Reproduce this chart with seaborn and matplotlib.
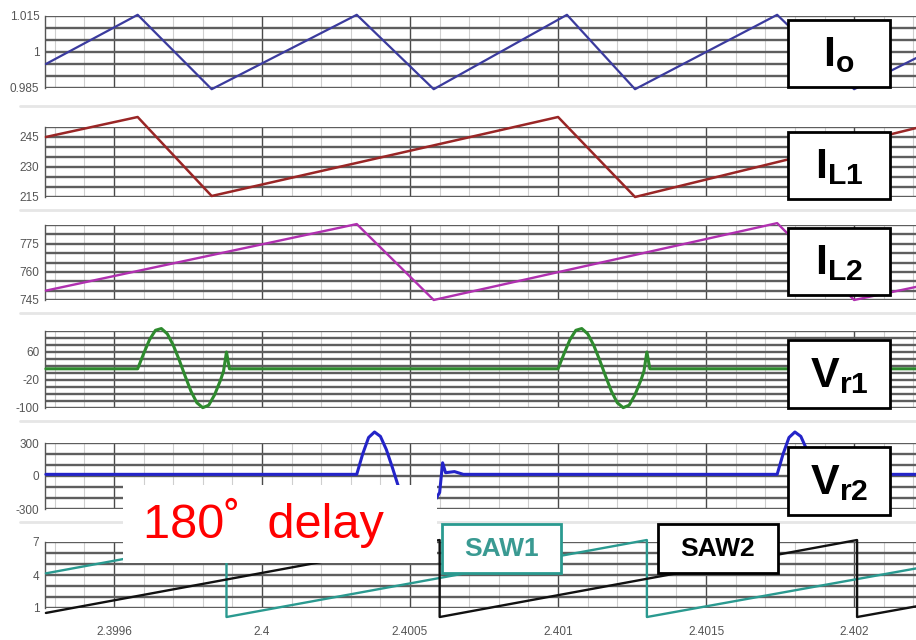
import matplotlib
matplotlib.use("Agg")
import matplotlib.pyplot as plt
import seaborn as sns
import numpy as np
import pandas as pd
from matplotlib.patches import Rectangle
from matplotlib.lines import Line2D
from matplotlib.ticker import FixedLocator

# ---------------- data ----------------
io_t = [2.39927, 2.39958, 2.39983, 2.40032, 2.40058, 2.40103, 2.40126, 2.40174, 2.40200, 2.40221]
io_v = [0.995, 1.0155, 0.9845, 1.0155, 0.9845, 1.0155, 0.9845, 1.0155, 0.9845, 0.9975]

il1_t = [2.39927, 2.39958, 2.39983, 2.40100, 2.40126, 2.40221]
il1_v = [245.0, 255.0, 215.5, 255.0, 215.0, 249.5]

il2_t = [2.39927, 2.40032, 2.40058, 2.40174, 2.40200, 2.40221]
il2_v = [750.0, 785.5, 745.0, 786.0, 745.0, 752.0]

vr1_t = [2.39927,
         2.39958, 2.39960, 2.39962, 2.39964, 2.39966, 2.39968, 2.39970, 2.39972, 2.39974,
         2.39976, 2.39978, 2.39980, 2.39982, 2.39984, 2.39986, 2.39987, 2.39988, 2.39989,
         2.40100, 2.40102, 2.40104, 2.40106, 2.40108, 2.40110, 2.40112, 2.40114, 2.40116,
         2.40118, 2.40120, 2.40122, 2.40124, 2.40126, 2.40128, 2.40129, 2.40130, 2.40131,
         2.40221]
vr1_v = [12,
         12, 55, 95, 122, 127, 112, 80, 38, -8,
         -52, -85, -99, -92, -62, -20, 5, 60, 12,
         12, 55, 95, 122, 127, 112, 80, 38, -8,
         -52, -85, -99, -92, -62, -20, 5, 60, 12,
         12]

vr2_t = [2.39927,
         2.40032, 2.40034, 2.40036, 2.40038, 2.40040, 2.40042, 2.40044, 2.40046, 2.40048,
         2.40050, 2.40052, 2.40054, 2.40056, 2.40058, 2.40060, 2.40061, 2.40062, 2.40065, 2.40068,
         2.40174, 2.40176, 2.40178, 2.40180, 2.40182, 2.40184, 2.40186, 2.40188, 2.40190,
         2.40192, 2.40194, 2.40196, 2.40198, 2.40200, 2.40202, 2.40203, 2.40204, 2.40207, 2.40210,
         2.40221]
vr2_v = [15,
         15, 200, 350, 400, 360, 240, 80, -90, -220,
         -290, -310, -300, -260, -240, -150, 120, 30, 40, 15,
         15, 200, 350, 400, 360, 240, 80, -90, -220,
         -290, -310, -300, -260, -240, -150, 120, 30, 40, 15,
         15]

saw1_t = [2.39927, 2.39988, 2.39988, 2.40130, 2.40130, 2.40221]
saw1_v = [4.15, 7.18, 0.18, 7.18, 0.18, 4.6]
saw2_t = [2.39927, 2.40060, 2.40060, 2.40201, 2.40201, 2.40221]
saw2_v = [0.55, 7.18, 0.18, 7.18, 0.18, 1.15]

x_ticks = [2.3995, 2.4, 2.4005, 2.401, 2.4015, 2.402]
x_tick_labels = ["2.3996", "2.4", "2.4005", "2.401", "2.4015", "2.402"]
x_range = (2.399267, 2.402209)

panels = [
    # (ylim, major ticks, labels, minor ticks)
    ((0.985, 1.015), [0.985, 1.0, 1.015], ["0.985", "1", "1.015"], [0.99, 0.995, 1.005, 1.01]),
    ((215, 250), [215, 230, 245], ["215", "230", "245"], [220, 225, 235, 240, 250]),
    ((745, 785), [745, 760, 775], ["745", "760", "775"], [750, 755, 765, 770, 780, 785]),
    ((-100, 120), [-100, -20, 60], ["-100", "-20", "60"], [-80, -60, -40, 0, 20, 40, 80, 100, 120]),
    ((-300, 300), [-300, 0, 300], ["-300", "0", "300"], [-200, -100, 100, 200]),
    ((1, 7), [1, 4, 7], ["1", "4", "7"], [2, 3, 5, 6]),
]
panel_px = [(16, 88), (127, 197), (225, 300), (331, 408), (443, 509), (542, 608)]

# ---------------- figure ----------------
sns.set_style("white")
plt.rcParams["font.family"] = ["Liberation Sans", "DejaVu Sans"]
plt.rcParams["mathtext.fontset"] = "custom"
plt.rcParams["mathtext.bf"] = "Liberation Sans:bold"
plt.rcParams["mathtext.rm"] = "Liberation Sans"

W, H = 916, 640
fig = plt.figure(figsize=(W / 100, H / 100), dpi=100)
fig.patch.set_facecolor("white")

left_px = 45
axes = []
for (ytop, ybot), (ylim, maj, lab, mnr) in zip(panel_px, panels):
    ax = fig.add_axes([left_px / W, 1 - ybot / H, 1 - left_px / W, (ybot - ytop) / H])
    ax.set_facecolor("none")
    ax.set_xlim(*x_range)
    ax.set_ylim(*ylim)
    ax.yaxis.set_major_locator(FixedLocator(maj))
    ax.set_yticklabels(lab)
    ax.yaxis.set_minor_locator(FixedLocator(mnr))
    ax.xaxis.set_major_locator(FixedLocator(x_ticks))
    ax.xaxis.set_minor_locator(FixedLocator(list(np.round(np.arange(2.3993, 2.40225, 0.0001), 4))))
    ax.grid(axis="y", which="both", color="#5e5e5e", lw=1.7, zorder=0)
    ax.grid(axis="x", which="major", color="#4a4a4a", lw=1.0, zorder=0)
    ax.grid(axis="x", which="minor", color="#cfcfcf", lw=0.8, zorder=0)
    ax.set_axisbelow(True)
    for s in ["top", "right", "bottom"]:
        ax.spines[s].set_visible(False)
    ax.spines["left"].set_color("#555555")
    ax.spines["left"].set_linewidth(1.0)
    ax.tick_params(axis="y", which="both", direction="out", length=3, width=0.8,
                   color="#555555", labelsize=8.5, labelcolor="#555555", pad=1)
    ax.tick_params(axis="x", which="both", length=0, labelbottom=False)
    axes.append(ax)

ax1, ax2, ax3, ax4, ax5, ax6 = axes
ax6.tick_params(axis="x", which="major", length=5, width=0.8, color="#777777",
                labelbottom=True, labelsize=8.5, labelcolor="#555555", pad=8)
ax6.tick_params(axis="x", which="minor", length=3, width=0.6, color="#bbbbbb")
ax6.set_xticklabels(x_tick_labels)

def draw(ax, t, v, color, lw):
    df = pd.DataFrame({"t": t, "v": v})
    sns.lineplot(data=df, x="t", y="v", ax=ax, color=color, lw=lw,
                 estimator=None, sort=False, clip_on=False, zorder=3)
    ax.set_xlabel("")
    ax.set_ylabel("")

draw(ax1, io_t, io_v, "#3b3b9e", 1.6)
draw(ax2, il1_t, il1_v, "#9a2626", 1.8)
draw(ax3, il2_t, il2_v, "#b030b0", 1.7)
draw(ax4, vr1_t, vr1_v, "#2e8b2e", 2.2)
draw(ax5, vr2_t, vr2_v, "#2424c8", 2.2)
draw(ax6, saw1_t, saw1_v, "#2a9a90", 1.7)
draw(ax6, saw2_t, saw2_v, "#111111", 1.7)

# panel separators
for yy in [106, 210, 313, 421, 522]:
    fig.add_artist(Line2D([20 / W, 1.0], [1 - yy / H, 1 - yy / H], transform=fig.transFigure,
                          color="#e6e6e6", lw=2.0, zorder=0.5))

def box(x0, y0, x1, y1, ec="black", lw=2.0, fc="white"):
    fig.add_artist(Rectangle((x0 / W, 1 - y1 / H), (x1 - x0) / W, (y1 - y0) / H,
                             transform=fig.transFigure, fc=fc, ec=ec, lw=lw, zorder=10))

labels = [
    (r"$\mathbf{I}_{\mathbf{o}}$", (788, 20, 890, 87)),
    (r"$\mathbf{I}_{\mathbf{L1}}$", (788, 132, 890, 199)),
    (r"$\mathbf{I}_{\mathbf{L2}}$", (788, 228, 890, 295)),
    (r"$\mathbf{V}_{\mathbf{r1}}$", (788, 340, 890, 408)),
    (r"$\mathbf{V}_{\mathbf{r2}}$", (788, 447, 890, 515)),
]
for txt, (x0, y0, x1, y1) in labels:
    box(x0, y0, x1, y1)
    fig.text((x0 + x1) / 2 / W, 1 - ((y0 + y1) / 2 + 2) / H, txt, ha="center", va="center",
             fontsize=31, color="black", zorder=11)

# SAW labels
box(442, 524, 561, 573, ec="#2a9a90", lw=2.0)
fig.text((442 + 561) / 2 / W, 1 - 549 / H, "SAW1", ha="center", va="center",
         fontsize=19, fontweight="bold", color="#3a9a92", zorder=11)
box(658, 524, 778, 573, ec="black", lw=2.0)
fig.text((658 + 778) / 2 / W, 1 - 549 / H, "SAW2", ha="center", va="center",
         fontsize=19, fontweight="bold", color="black", zorder=11)

# 180 delay annotation
box(123, 485, 437, 563, ec="none", lw=0)
fig.text(143 / W, 1 - 523 / H, "180˚  delay", ha="left", va="center",
         fontsize=35, color="#ff0000", zorder=11)

fig.savefig("out.png", dpi=100, facecolor="white")
